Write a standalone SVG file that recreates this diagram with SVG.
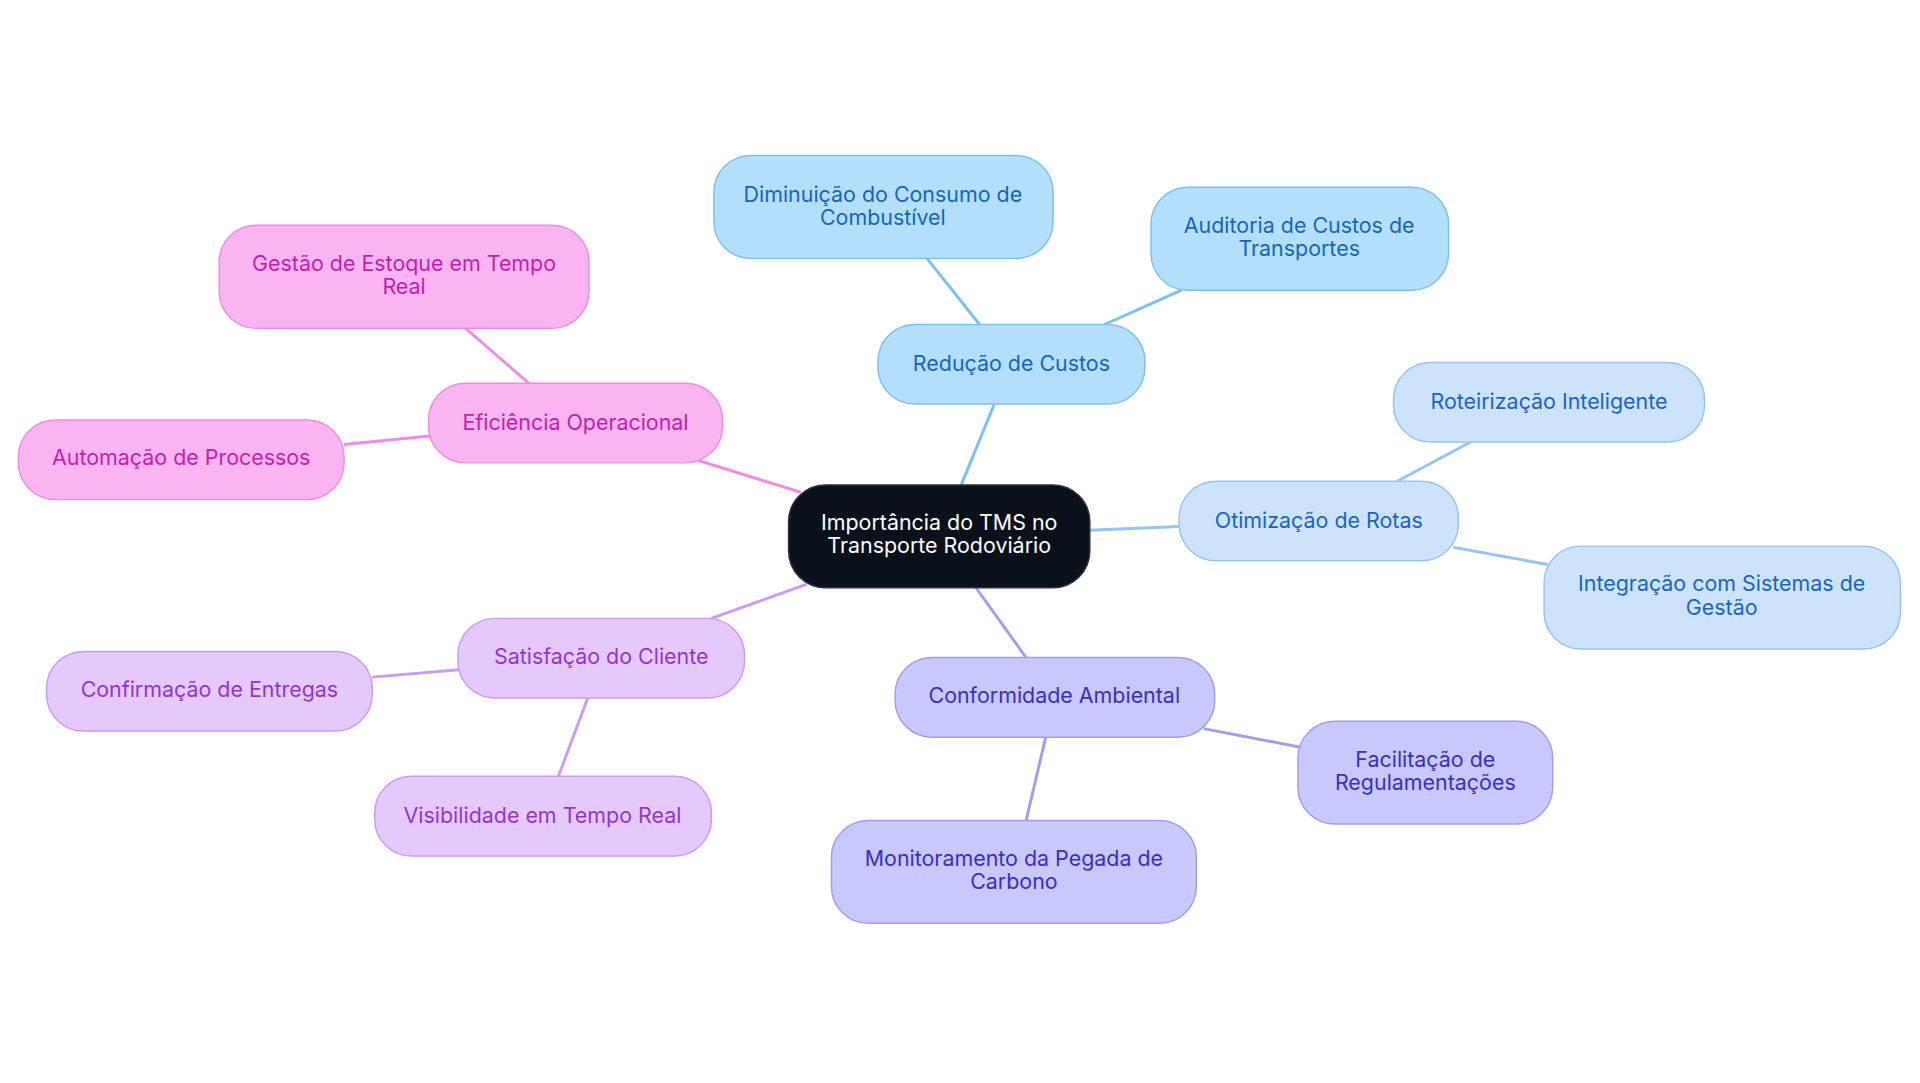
<svg xmlns="http://www.w3.org/2000/svg" width="1920" height="1083" viewBox="0 0 1920 1083">
<style>
text{font-family:Inter,"Noto Sans","Liberation Sans",sans-serif;font-size:17.5px;text-anchor:middle}
.b rect{fill:#b3dffd;stroke:#7cc0f0}.b text{fill:#1566b8}
.o rect{fill:#cce3fb;stroke:#96c3f2}.o text{fill:#1a63c8}
.c rect{fill:#c8c8fc;stroke:#9e9ef0}.c text{fill:#3a2ec4}
.s rect{fill:#e6c9fc;stroke:#c99cf0}.s text{fill:#9333d4}
.e rect{fill:#fbb4f2;stroke:#ef8be0}.e text{fill:#c21fb0}
rect{stroke-width:1.2}
line{stroke-width:2.4}
</style>
<rect width="1920" height="1083" fill="#fff"/>
<g transform="scale(1.2245)">
<g id="edges">
<g stroke="#7cc0f0"><line x1="785" y1="396" x2="812" y2="330"/><line x1="800" y1="265" x2="757" y2="211"/><line x1="902" y1="265" x2="965" y2="237"/></g>
<g stroke="#96c3f2"><line x1="890" y1="433" x2="963" y2="430"/><line x1="1141" y1="393" x2="1201" y2="361"/><line x1="1187" y1="447" x2="1264" y2="461"/></g>
<g stroke="#9e9ef0"><line x1="797" y1="480" x2="838" y2="537"/><line x1="983" y1="595" x2="1061" y2="610"/><line x1="854" y1="602" x2="838" y2="670"/></g>
<g stroke="#c99cf0"><line x1="659" y1="477" x2="581" y2="505"/><line x1="375" y1="547" x2="304" y2="553"/><line x1="480" y1="570" x2="456" y2="634"/></g>
<g stroke="#ef8be0"><line x1="654" y1="402" x2="570" y2="376"/><line x1="432" y1="313" x2="380" y2="268"/><line x1="351" y1="356" x2="281" y2="363"/></g>
</g>
<g id="center"><rect x="644" y="396" width="246" height="84" rx="30" fill="#0b111b" stroke="#2a3240"/><text x="767" y="433" fill="#fff">Importância do TMS no</text><text x="767" y="452" fill="#fff">Transporte Rodoviário</text></g>
<g id="reducao" class="b"><rect x="717" y="265" width="218" height="65" rx="30"/><text x="826" y="303">Redução de Custos</text></g>
<g id="diminuicao" class="b"><rect x="583" y="127" width="277" height="84" rx="30"/><text x="721" y="165">Diminuição do Consumo de</text><text x="721" y="184">Combustível</text></g>
<g id="auditoria" class="b"><rect x="940" y="153" width="243" height="84" rx="30"/><text x="1061" y="190">Auditoria de Custos de</text><text x="1061" y="209">Transportes</text></g>
<g id="otimizacao" class="o"><rect x="963" y="393" width="228" height="65" rx="30"/><text x="1077" y="431">Otimização de Rotas</text></g>
<g id="roteirizacao" class="o"><rect x="1138" y="296" width="254" height="65" rx="30"/><text x="1265" y="334">Roteirização Inteligente</text></g>
<g id="integracao" class="o"><rect x="1261" y="446" width="291" height="84" rx="30"/><text x="1406" y="483">Integração com Sistemas de</text><text x="1406" y="502">Gestão</text></g>
<g id="conformidade" class="c"><rect x="731" y="537" width="261" height="65" rx="30"/><text x="861" y="574">Conformidade Ambiental</text></g>
<g id="facilitacao" class="c"><rect x="1060" y="589" width="208" height="84" rx="30"/><text x="1164" y="626">Facilitação de</text><text x="1164" y="645">Regulamentações</text></g>
<g id="monitoramento" class="c"><rect x="679" y="670" width="298" height="84" rx="30"/><text x="828" y="707">Monitoramento da Pegada de</text><text x="828" y="726">Carbono</text></g>
<g id="satisfacao" class="s"><rect x="374" y="505" width="234" height="65" rx="30"/><text x="491" y="542">Satisfação do Cliente</text></g>
<g id="confirmacao" class="s"><rect x="38" y="532" width="266" height="65" rx="30"/><text x="171" y="569">Confirmação de Entregas</text></g>
<g id="visibilidade" class="s"><rect x="306" y="634" width="275" height="65" rx="30"/><text x="443" y="672">Visibilidade em Tempo Real</text></g>
<g id="eficiencia" class="e"><rect x="350" y="313" width="240" height="65" rx="30"/><text x="470" y="351">Eficiência Operacional</text></g>
<g id="gestao" class="e"><rect x="179" y="184" width="302" height="84" rx="30"/><text x="330" y="221">Gestão de Estoque em Tempo</text><text x="330" y="240">Real</text></g>
<g id="automacao" class="e"><rect x="15" y="343" width="266" height="65" rx="30"/><text x="148" y="380">Automação de Processos</text></g>
</g>
</svg>
